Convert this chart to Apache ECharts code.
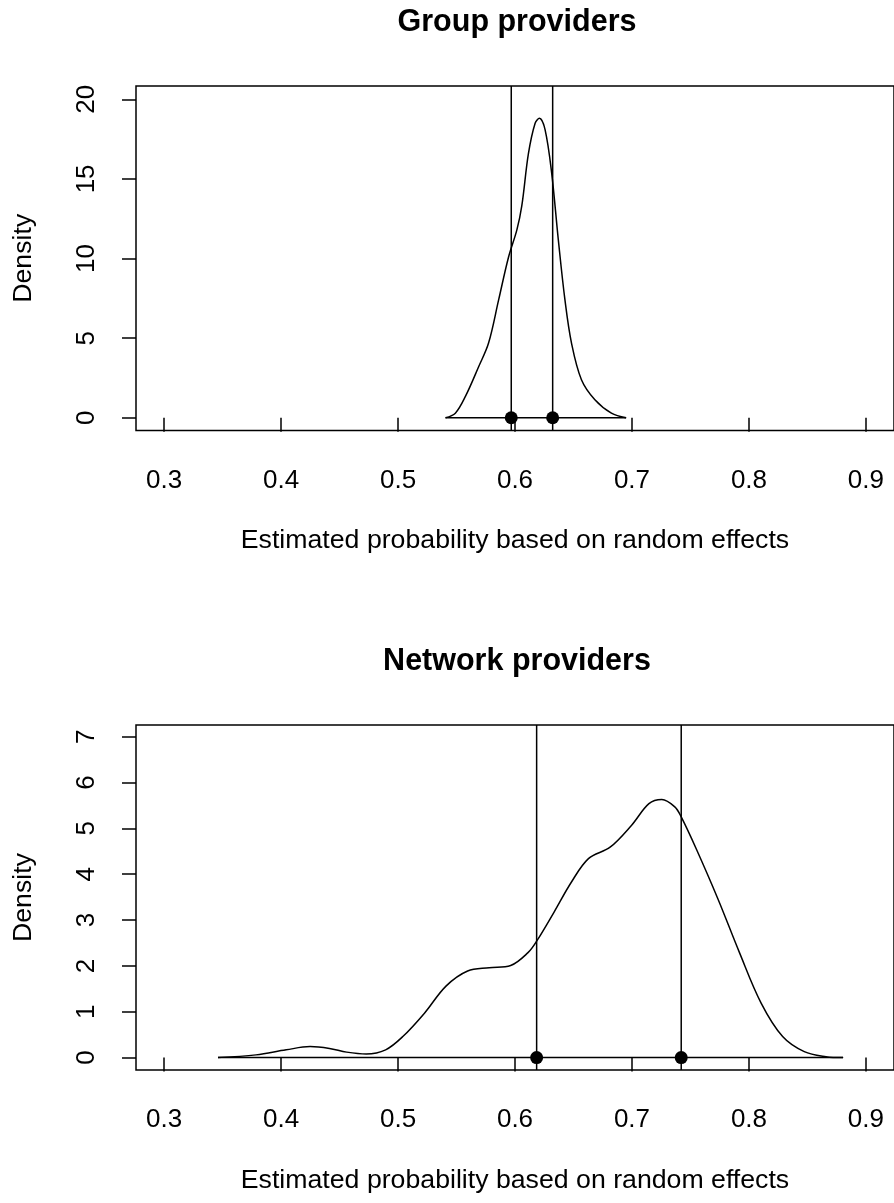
<!DOCTYPE html>
<html>
<head>
<meta charset="utf-8">
<script src="https://cdn.jsdelivr.net/npm/echarts@6/dist/echarts.min.js"></script>
<style>
  html, body { margin: 0; padding: 0; background: #fff; }
  #chart { width: 894px; height: 1203px; }
</style>
</head>
<body>
<div id="chart"></div>
<script>
// density curves
const groupX = [0.5406, 0.549, 0.5576, 0.569, 0.5774, 0.586, 0.5945, 0.6016, 0.6058, 0.6115, 0.6172, 0.6209, 0.6257, 0.6313, 0.637, 0.6427, 0.6483, 0.6568, 0.6683, 0.6824, 0.695];
const groupY = [0, 0.29, 1.34, 3.22, 4.69, 7.4, 10.1, 11.8, 13.3, 16.6, 18.5, 18.81, 18.1, 15.4, 11.2, 7.4, 4.69, 2.39, 1.13, 0.29, 0];
const networkX = [0.3461, 0.3786, 0.4044, 0.4248, 0.4414, 0.4561, 0.4728, 0.4894, 0.5041, 0.5226, 0.541, 0.5595, 0.5779, 0.5963, 0.6111, 0.6185, 0.6333, 0.648, 0.6628, 0.6813, 0.6997, 0.7145, 0.7255, 0.7366, 0.7421, 0.755, 0.7735, 0.7919, 0.8104, 0.8288, 0.8473, 0.8658, 0.8805];
const networkY = [0, 0.06, 0.17, 0.24, 0.2, 0.12, 0.08, 0.17, 0.46, 0.97, 1.56, 1.89, 1.96, 2.01, 2.29, 2.54, 3.17, 3.82, 4.34, 4.59, 5.07, 5.54, 5.63, 5.47, 5.25, 4.55, 3.46, 2.29, 1.19, 0.46, 0.13, 0.02, 0];

// marked estimates (dots + vertical lines)
const groupMarks = [0.5968, 0.6322];
const networkMarks = [0.6185, 0.7421];

// tick labels
const xTicks = [0.3, 0.4, 0.5, 0.6, 0.7, 0.8, 0.9];
const groupYTicks = [0, 5, 10, 15, 20];
const networkYTicks = [0, 1, 2, 3, 4, 5, 6, 7];

const titles = ['Group providers', 'Network providers'];
const xName = 'Estimated probability based on random effects';
const yName = 'Density';

const FONT = '"Liberation Sans", Arial, Helvetica, sans-serif';
const X_MIN = 0.276, X_MAX = 0.924;

function zip(xs, ys) { return xs.map((x, i) => [x, ys[i]]); }

function xAxisFor(gi) {
  return {
    type: 'value', gridIndex: gi, min: X_MIN, max: X_MAX,
    axisLine: { show: false },
    splitLine: { show: false },
    axisTick: { show: true, length: 14, customValues: xTicks, lineStyle: { color: '#000', width: 1.5 } },
    axisLabel: {
      show: true, customValues: xTicks, margin: 37, color: '#000', fontSize: 26, fontFamily: FONT,
      formatter: v => v.toFixed(1)
    },
    name: xName, nameLocation: 'middle', nameGap: 97,
    nameTextStyle: { color: '#000', fontSize: 26.7, fontFamily: FONT }
  };
}

function yAxisFor(gi, min, max, ticks) {
  return {
    type: 'value', gridIndex: gi, min: min, max: max,
    axisLine: { show: false },
    splitLine: { show: false },
    axisTick: { show: true, length: 14, customValues: ticks, lineStyle: { color: '#000', width: 1.5 } },
    axisLabel: {
      show: true, customValues: ticks, rotate: 90, margin: 36, color: '#000', fontSize: 26, fontFamily: FONT
    },
    name: yName, nameLocation: 'middle', nameGap: 99,
    nameTextStyle: { color: '#000', fontSize: 26.7, fontFamily: FONT }
  };
}

function seriesFor(gi, xs, ys, marks, yMin, yMax) {
  const out = [
    {
      type: 'line', xAxisIndex: gi, yAxisIndex: gi, data: zip(xs, ys),
      smooth: 0.35, showSymbol: false, silent: true,
      lineStyle: { color: '#000', width: 1.5 }
    },
    {
      // baseline over the data range
      type: 'line', xAxisIndex: gi, yAxisIndex: gi,
      data: [[xs[0], 0], [xs[xs.length - 1], 0]],
      showSymbol: false, silent: true,
      lineStyle: { color: '#000', width: 1.5 }
    }
  ];
  marks.forEach(m => {
    out.push({
      type: 'line', xAxisIndex: gi, yAxisIndex: gi,
      data: [[m, yMin], [m, yMax]],
      showSymbol: false, silent: true,
      lineStyle: { color: '#000', width: 1.5 }
    });
  });
  out.push({
    type: 'scatter', xAxisIndex: gi, yAxisIndex: gi, z: 5,
    data: marks.map(m => [m, 0]),
    symbol: 'circle', symbolSize: 13,
    itemStyle: { color: '#000', opacity: 1 }
  });
  return out;
}

const chart = echarts.init(document.getElementById('chart'));
chart.setOption({
  animation: false,
  backgroundColor: '#fff',
  graphic: [
    { type: 'text', x: 517, y: 23, style: { text: titles[0], fill: '#000', font: 'bold 30.5px ' + FONT, textAlign: 'center', textVerticalAlign: 'middle' } },
    { type: 'text', x: 517, y: 662, style: { text: titles[1], fill: '#000', font: 'bold 30.5px ' + FONT, textAlign: 'center', textVerticalAlign: 'middle' } }
  ],
  grid: [
    { left: 136, right: -4, top: 86, height: 344.5, show: true, borderColor: '#000', borderWidth: 1.5, backgroundColor: 'transparent' },
    { left: 136, right: -4, top: 725, height: 345, show: true, borderColor: '#000', borderWidth: 1.5, backgroundColor: 'transparent' }
  ],
  xAxis: [xAxisFor(0), xAxisFor(1)],
  yAxis: [
    yAxisFor(0, -0.8, 20.835, groupYTicks),
    yAxisFor(1, -0.27, 7.255, networkYTicks)
  ],
  series: [].concat(
    seriesFor(0, groupX, groupY, groupMarks, -0.8, 20.835),
    seriesFor(1, networkX, networkY, networkMarks, -0.27, 7.255)
  )
});
</script>
</body>
</html>
